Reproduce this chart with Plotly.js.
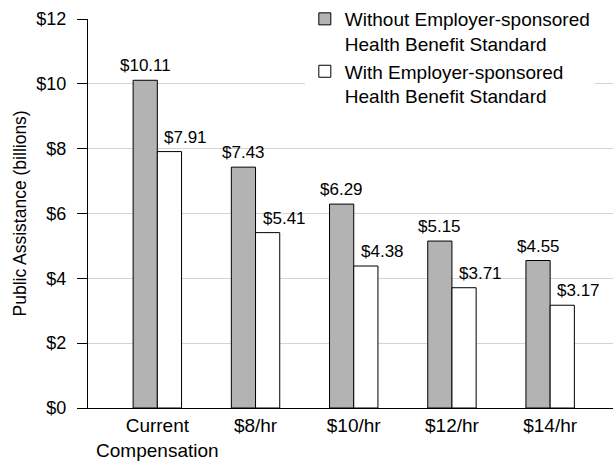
<!DOCTYPE html>
<html>
<head>
<meta charset="utf-8">
<script src="https://cdn.plot.ly/plotly-3.0.1.min.js"></script>
<style>
  html, body { margin: 0; padding: 0; background: #fff; }
  #chart { width: 613px; height: 462px; }
</style>
</head>
<body>
<div id="chart"></div>
<script>
const categories = ['Current<br>Compensation', '$8/hr', '$10/hr', '$12/hr', '$14/hr'];
const withoutStandard = [10.11, 7.43, 6.29, 5.15, 4.55];
const withStandard = [7.91, 5.41, 4.38, 3.71, 3.17];
const seriesNames = ['Without Employer-sponsored<br>Health Benefit Standard', 'With Employer-sponsored<br>Health Benefit Standard'];
const yTickVals = [0, 2, 4, 6, 8, 10, 12];
const yTickText = ['$0', '$2', '$4', '$6', '$8', '$10', '$12'];

const FONT = 'Liberation Sans, Arial, Helvetica, sans-serif';
const bargap = 0.507;
const barW = (1 - bargap) / 2;

const traces = [
  {
    type: 'bar', name: seriesNames[0], x: categories, y: withoutStandard,
    marker: { color: '#b3b3b3', line: { color: '#000', width: 1 } },
    hoverinfo: 'skip'
  },
  {
    type: 'bar', name: seriesNames[1], x: categories, y: withStandard,
    marker: { color: '#ffffff', line: { color: '#000', width: 1 } },
    hoverinfo: 'skip'
  }
];

const fmt = v => '$' + v.toFixed(2);
const annotations = [];
withoutStandard.forEach((v, i) => {
  annotations.push({
    x: i - barW / 2, y: v, xref: 'x', yref: 'y', text: fmt(v), showarrow: false,
    xanchor: 'center', yanchor: 'bottom', yshift: 3,
    font: { family: FONT, size: 17, color: '#000' }
  });
});
withStandard.forEach((v, i) => {
  annotations.push({
    x: i, y: v, xref: 'x', yref: 'y', text: fmt(v), showarrow: false,
    xanchor: 'left', yanchor: 'bottom', xshift: 5, yshift: 3,
    font: { family: FONT, size: 17, color: '#000' }
  });
});
annotations.push({
  text: 'Public Assistance (billions)', textangle: -90, showarrow: false,
  xref: 'paper', yref: 'paper', x: 0, y: 0.5, xanchor: 'center', yanchor: 'middle',
  xshift: -69, font: { family: FONT, size: 17.5, color: '#000' }
});

const layout = {
  width: 613, height: 462,
  margin: { l: 88, r: 0, t: 17, b: 54, pad: 0 },
  paper_bgcolor: '#fff', plot_bgcolor: '#fff',
  font: { family: FONT, color: '#000' },
  barmode: 'group', bargap: bargap, bargroupgap: 0,
  showlegend: true,
  legend: {
    x: 0.413, y: 1.05, xanchor: 'left', yanchor: 'top',
    bgcolor: '#fff', borderwidth: 0, valign: 'top', tracegroupgap: 0,
    traceorder: 'normal',
    font: { family: FONT, size: 19, color: '#000' }
  },
  xaxis: {
    type: 'category', range: [-0.706, 4.64], fixedrange: true,
    showline: true, linecolor: '#000', linewidth: 1, ticks: '',
    showgrid: false, zeroline: false,
    tickfont: { family: FONT, size: 19, color: '#000' }
  },
  yaxis: {
    range: [0, 12], fixedrange: true, tickmode: 'array', tickvals: yTickVals, ticktext: yTickText,
    ticks: 'outside', ticklen: 10, tickwidth: 1, tickcolor: '#000',
    showline: true, linecolor: '#000', linewidth: 1,
    showgrid: true, gridcolor: '#d4d4d4', gridwidth: 1, zeroline: false,
    ticklabelstandoff: 7,
    tickfont: { family: FONT, size: 18, color: '#000' }
  },
  annotations: annotations
};

Plotly.newPlot('chart', traces, layout, { displayModeBar: false, staticPlot: true });
</script>
</body>
</html>
